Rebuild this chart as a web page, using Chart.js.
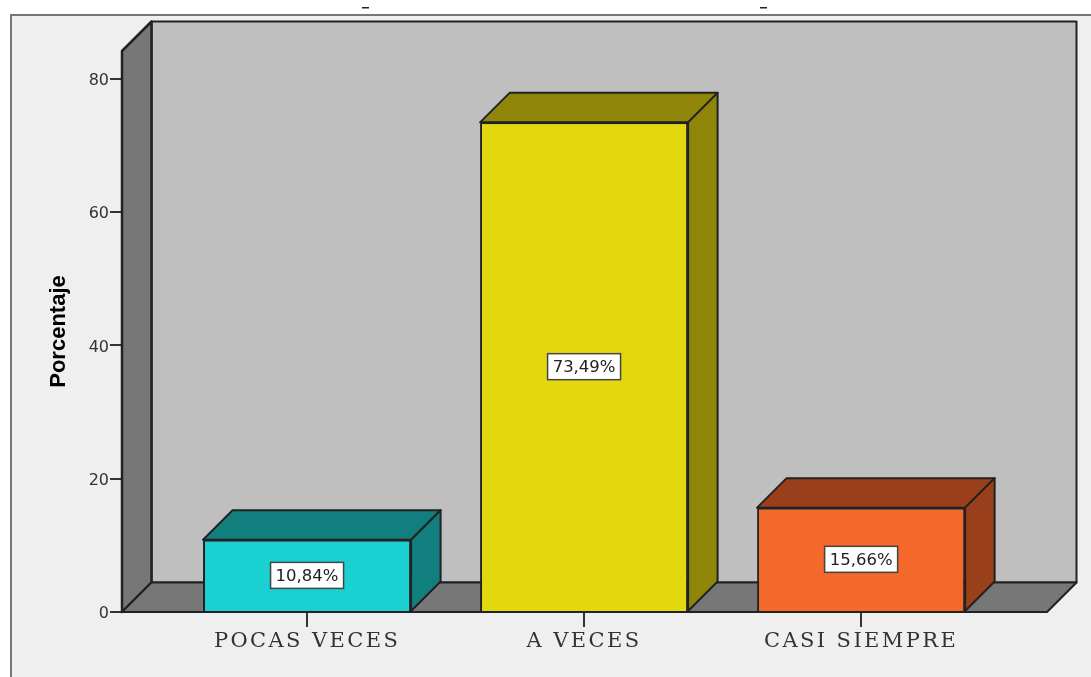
<!DOCTYPE html>
<html><head><meta charset="utf-8">
<style>html,body{margin:0;padding:0;background:#fff}#w{width:1091px;height:677px;position:relative}</style>
<script src="https://cdn.jsdelivr.net/npm/chart.js@4"></script></head>
<body><div id="w"><canvas id="c" width="1091" height="677"></canvas></div>
<script>
const categories = ['POCAS VECES', 'A VECES', 'CASI SIEMPRE'];
const positions = [1, 2, 3];
const percentages = [10.84, 73.49, 15.66];
const valueLabels = ['10,84%', '73,49%', '15,66%'];
const frontColors = ['#1bd0d0', '#e3d80e', '#f46829'];
const shadeColors = ['#127f7f', '#8f8508', '#993f1b'];
const yTicks = [0, 20, 40, 60, 80];
const yTitle = 'Porcentaje';

const DEPTH_X = 29.5, DEPTH_Y = 29.5, EDGE = '#222222';
function poly(ctx, pts, fill, stroke, lw) {
  ctx.beginPath();
  pts.forEach((p, i) => i ? ctx.lineTo(p[0], p[1]) : ctx.moveTo(p[0], p[1]));
  ctx.closePath();
  if (fill) { ctx.fillStyle = fill; ctx.fill(); }
  if (stroke) { ctx.strokeStyle = stroke; ctx.lineWidth = lw || 2; ctx.lineJoin = 'round'; ctx.stroke(); }
}
const stage = {
  id: 'stage',
  beforeDraw(chart) {
    const c = chart.ctx, W = chart.width, H = chart.height;
    c.save();
    c.fillStyle = '#ffffff'; c.fillRect(0, 0, W, H);
    c.fillStyle = '#efefef'; c.fillRect(11, 15, W - 11, H - 15);
    c.fillStyle = '#777777'; c.fillRect(10, 14, W - 10, 2); c.fillRect(10, 14, 2, H - 14);
    c.fillStyle = '#222222'; c.fillRect(362, 7, 7, 1.5); c.fillRect(760, 7, 7, 1.5);
    c.restore();
  },
  beforeDatasetsDraw(chart) {
    const c = chart.ctx, a = chart.chartArea;
    const l = a.left, r = a.right, t = a.top, b = a.bottom;
    c.save();
    poly(c, [[l + DEPTH_X, t - DEPTH_Y], [r + DEPTH_X, t - DEPTH_Y], [r + DEPTH_X, b - DEPTH_Y], [l + DEPTH_X, b - DEPTH_Y]], '#bfbfbf', EDGE, 2);
    poly(c, [[l, t], [l + DEPTH_X, t - DEPTH_Y], [l + DEPTH_X, b - DEPTH_Y], [l, b]], '#777777', EDGE, 2.5);
    poly(c, [[l, b], [l + DEPTH_X, b - DEPTH_Y], [r + DEPTH_X, b - DEPTH_Y], [r, b]], '#777777', EDGE, 2);
    chart.getDatasetMeta(0).data.forEach((bar, i) => {
      const x0 = bar.x - bar.width / 2, x1 = bar.x + bar.width / 2;
      poly(c, [[x0, bar.y], [x0 + DEPTH_X, bar.y - DEPTH_Y], [x1 + DEPTH_X, bar.y - DEPTH_Y], [x1, bar.y]], shadeColors[i], EDGE, 2);
      poly(c, [[x1, bar.y], [x1 + DEPTH_X, bar.y - DEPTH_Y], [x1 + DEPTH_X, bar.base - DEPTH_Y], [x1, bar.base]], shadeColors[i], EDGE, 2);
    });
    c.restore();
  },
  afterDatasetsDraw(chart) {
    const c = chart.ctx;
    c.save();
    c.font = '16.5px "DejaVu Sans"';
    c.textAlign = 'center'; c.textBaseline = 'middle';
    chart.getDatasetMeta(0).data.forEach((bar, i) => {
      const x = bar.x, y = (bar.y + bar.base) / 2;
      c.fillStyle = '#ffffff'; c.strokeStyle = '#444444'; c.lineWidth = 1.5;
      c.fillRect(x - 36.5, y - 13, 73, 26); c.strokeRect(x - 36.5, y - 13, 73, 26);
      c.fillStyle = '#222222'; c.fillText(valueLabels[i], x, y + 1);
    });
    c.restore();
    c.letterSpacing = '2.4px';   // applies to the x tick labels, drawn next (ticks.z = 1)
  },
  afterDraw(chart) { chart.ctx.letterSpacing = '0px'; }
};
new Chart(document.getElementById('c'), {
  type: 'bar',
  plugins: [stage],
  data: { datasets: [{
    data: positions.map((x, i) => ({ x, y: percentages[i] })),
    backgroundColor: frontColors, borderColor: EDGE, borderWidth: 2,
    barPercentage: 0.751, categoryPercentage: 1
  }] },
  options: {
    responsive: false, animation: false,
    layout: { padding: { left: 0, right: 44, top: 51, bottom: 0 } },
    plugins: { legend: { display: false }, tooltip: { enabled: false }, title: { display: false } },
    scales: {
      x: {
        type: 'linear', min: 0.332, max: 3.671, offset: false,
        afterBuildTicks(s) { s.ticks = positions.map(v => ({ value: v })); },
        afterFit(s) { s.height = 65; },
        border: { display: false },
        grid: { offset: false, drawOnChartArea: false, drawTicks: true, tickLength: 15, color: '#333333', lineWidth: 2 },
        ticks: { z: 1, autoSkip: false, maxRotation: 0, padding: 2, color: '#333333',
          font: { family: '"DejaVu Serif"', size: 21 },
          callback: v => categories[positions.indexOf(v)] }
      },
      y: {
        min: 0, max: 84.2,
        afterBuildTicks(s) { s.ticks = yTicks.map(v => ({ value: v })); },
        afterFit(s) { s.width = 122; },
        border: { display: false },
        grid: { drawOnChartArea: false, drawTicks: true, tickLength: 12, color: '#333333', lineWidth: 2 },
        ticks: { padding: 1, labelOffset: 2, color: '#333333', font: { family: '"DejaVu Sans"', size: 16 } },
        title: { display: true, text: yTitle, color: '#000000', padding: { top: 46, bottom: 0 },
          font: { family: '"Liberation Sans"', size: 22, weight: 'bold' } }
      }
    }
  }
});
</script></body></html>
